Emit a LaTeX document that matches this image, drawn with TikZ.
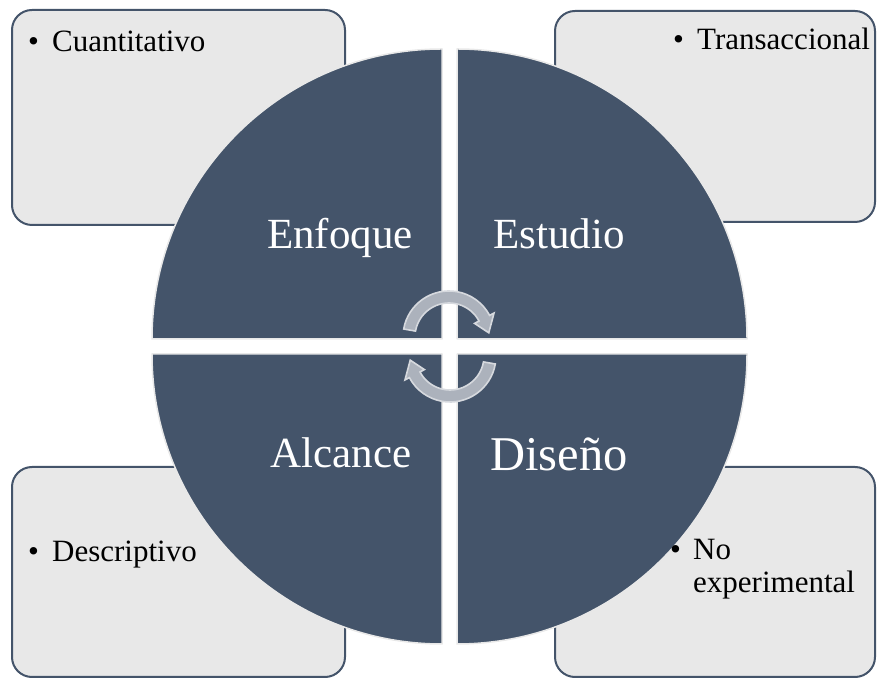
\documentclass[tikz,border=0pt]{standalone}
\usepackage{fontspec}
\setmainfont{Liberation Serif}
\definecolor{slate}{RGB}{68,84,106}
\definecolor{boxfill}{RGB}{232,232,232}
\definecolor{quadedge}{RGB}{232,232,232}
\definecolor{arrfill}{RGB}{172,178,188}
\definecolor{arredge}{RGB}{214,217,222}
\tikzset{
  infobox/.style={draw=slate, fill=boxfill, line width=2pt, rounded corners=20pt},
  quad/.style={fill=slate, draw=quadedge, line width=1.5pt, line join=round},
  quadtext/.style={text=white, inner sep=0pt, anchor=base, font=\fontsize{43}{51}\selectfont},
  bullettext/.style={text=black, inner sep=0pt, anchor=base west, font=\fontsize{31}{33}\selectfont},
  arrowsty/.style={fill=arrfill, draw=arredge, line width=1.6pt, line join=miter},
  cyc/.pic={
    \path[arrowsty] (170:46) arc[start angle=170,end angle=28,radius=46]
      -- (28:51) -- (6:40) -- (28:29) -- (28:34)
      arc[start angle=28,end angle=170,radius=34] -- cycle;
  }
}
\begin{document}
\begin{tikzpicture}[x=1pt,y=1pt]
\useasboundingbox (0,0) rectangle (877,679);
% side boxes
\draw[infobox] (12,454) rectangle (345,669);
\draw[infobox] (555,457) rectangle (875,668);
\draw[infobox] (12,2) rectangle (345,212);
\draw[infobox] (555,2) rectangle (875,212);
% quadrants
\draw[quad] (442,340) -- (152,340) arc[start angle=180,end angle=90,radius=290] -- cycle;
\draw[quad] (457,340) -- (747,340) arc[start angle=0,end angle=90,radius=290] -- cycle;
\draw[quad] (442,325) -- (152,325) arc[start angle=180,end angle=270,radius=290] -- cycle;
\draw[quad] (457,325) -- (747,325) arc[start angle=0,end angle=-90,radius=290] -- cycle;
% cycle arrows
\pic (arrup) at (449,342) {cyc};
\pic[rotate=180] (arrdown) at (450,323) {cyc};
% quadrant labels
\node[quadtext] (enfoque) at (340,430) {Enfoque};
\node[quadtext] (estudio) at (559,430) {Estudio};
\node[quadtext] (alcance) at (341,211) {Alcance};
\node[quadtext, font=\fontsize{48.5}{56}\selectfont] (diseno) at (559,208) {Diseño};
% bullet texts
\node[bullettext] (cuanti) at (28,627) {\makebox[24pt][l]{\textbullet}Cuantitativo};
\node[bullettext] (trans) at (673,629) {\makebox[24pt][l]{\textbullet}Transaccional};
\node[bullettext] (descr) at (28,117) {\makebox[24pt][l]{\textbullet}Descriptivo};
\node[bullettext] (noexp) at (670,119) {\begin{tabular}[t]{@{}l@{}}\makebox[23pt][l]{\textbullet}No\\\hspace*{23pt}experimental\end{tabular}};
\end{tikzpicture}
\end{document}
